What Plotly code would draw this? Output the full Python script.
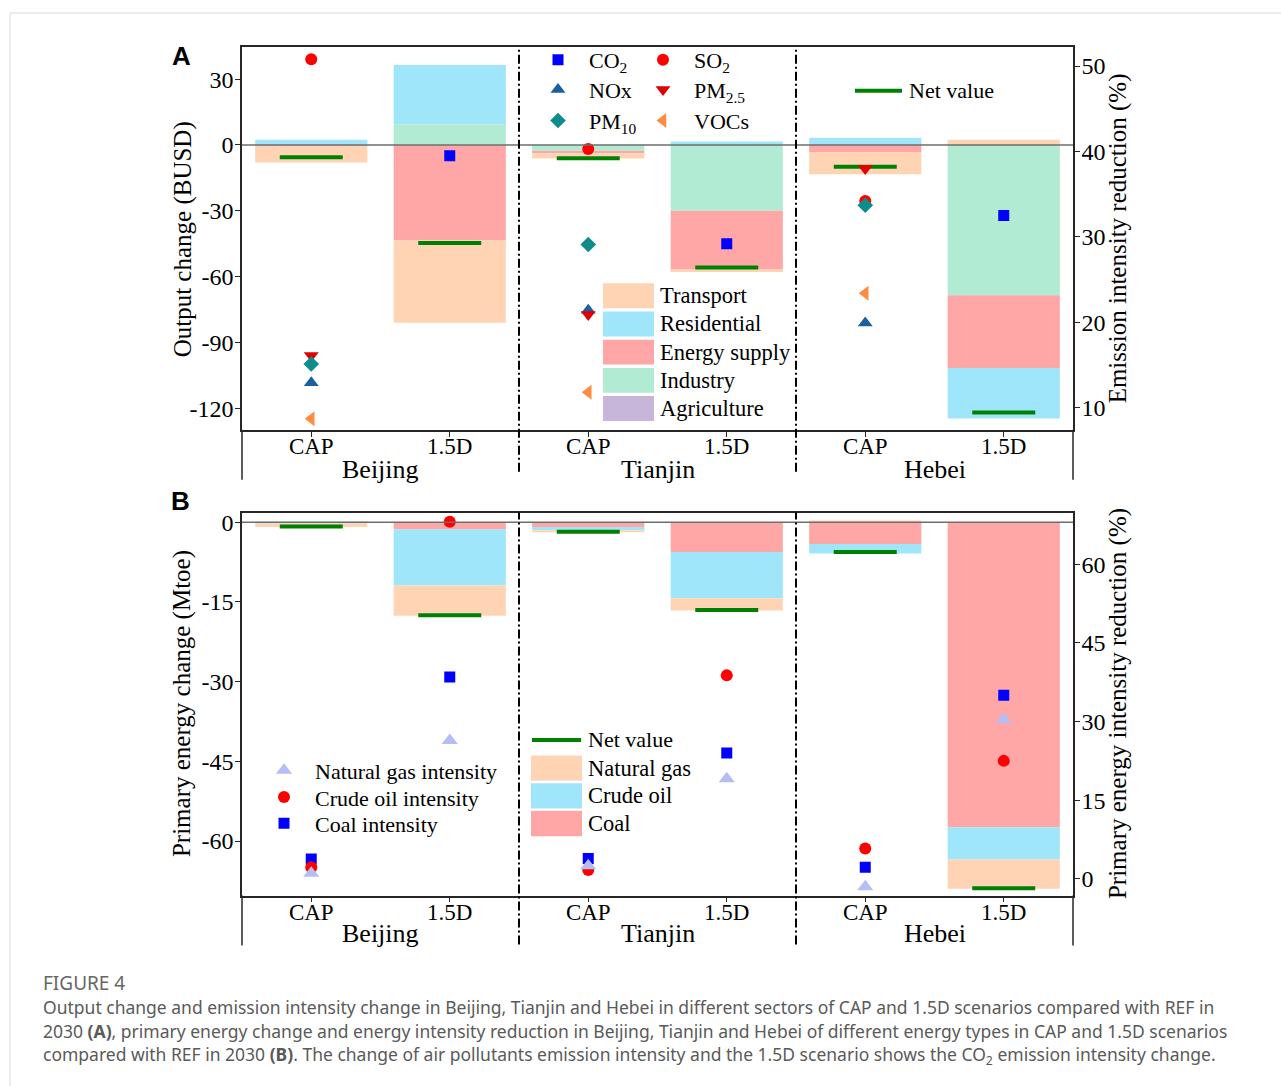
import plotly.graph_objects as go

W, H = 1281, 1086

def px(x):
    return x / W

def py(y):
    return 1 - y / H

cities = ["Beijing", "Tianjin", "Hebei"]
scenarios = ["CAP", "1.5D"]

# Panel A: output change (BUSD); order BJ-CAP, BJ-1.5D, TJ-CAP, TJ-1.5D, HB-CAP, HB-1.5D
industry = [0.0, 9.4, -2.7, -30.0, 0.0, -68.6]
energy_supply = [-0.3, -43.6, -1.1, -26.8, -3.5, -33.1]
residential = [2.3, 27.0, 0.0, 1.6, 3.3, -23.0]
transport = [-7.7, -37.5, -2.4, -1.1, -9.9, 2.4]
agriculture = [0.0, 0.0, 0.0, 0.0, 0.0, 0.0]
net_output = [-5.6, -44.7, -6.1, -55.9, -9.9, -122.0]

# Panel A: emission intensity reduction (%)
co2 = [None, 39.5, None, 29.2, None, 32.5]
so2 = [50.8, None, 40.3, None, 34.2, None]
nox = [12.9, None, 21.4, None, 19.9, None]
pm25 = [16.1, None, 20.9, None, 38.0, None]
pm10 = [15.1, None, 29.1, None, 33.7, None]
vocs = [8.7, None, 11.8, None, 23.4, None]

# Panel B: primary energy change (Mtoe)
coal = [0.0, -1.3, -0.9, -5.6, -4.1, -57.4]
crude_oil = [-0.2, -10.6, -0.6, -8.7, -1.8, -6.1]
natural_gas = [-0.7, -5.7, -0.4, -2.3, 0.2, -5.5]
net_energy = [-0.8, -17.5, -1.8, -16.5, -5.6, -68.9]

# Panel B: primary energy intensity reduction (%)
gas_int = [1.1, 26.4, 2.5, 19.1, -1.5, 30.4]
crude_int = [2.2, 68.1, 1.7, 38.8, 5.8, 22.5]
coal_int = [3.8, 38.5, 3.9, 24.0, 2.2, 35.0]

# tick labels
ya_ticks = [-120, -90, -60, -30, 0, 30]
ya2_ticks = [10, 20, 30, 40, 50]
yb_ticks = [-60, -45, -30, -15, 0]
yb2_ticks = [0, 15, 30, 45, 60]

labels = [s for c in cities for s in scenarios]
xs = list(range(len(labels)))

C_TRANS = "#FFD4B5"
C_RES = "#9FE6FA"
C_ENER = "#FFA7A7"
C_IND = "#B2EBD3"
C_AGR = "#C8B5DA"
C_NET = "#008000"

SERIF = "Liberation Serif"
BAR_W = 0.81
LEG_IW = 52  # legend symbol area width

fig = go.Figure()

# ---- Panel A bars
for name, vals, col in [("Industry", industry, C_IND), ("Energy supply", energy_supply, C_ENER),
                        ("Residential", residential, C_RES), ("Transport", transport, C_TRANS),
                        ("Agriculture", agriculture, C_AGR)]:
    fig.add_trace(go.Bar(x=xs, y=vals, name=name, marker=dict(color=col, line=dict(width=0)),
                         width=BAR_W, showlegend=False, xaxis="x", yaxis="y"))
fig.add_trace(go.Scatter(x=xs, y=net_output, mode="markers", name="Net value", showlegend=False,
                         marker=dict(symbol="line-ew", size=45, line=dict(width=4, color=C_NET)),
                         xaxis="x", yaxis="y"))

# ---- Panel A markers  (name, values, symbol, colour, size, legend id, legend marker x, row y)
mk = [
    ("CO<sub>2</sub>", co2, "square", "#0000FF", 11, "legend", 558, 57),
    ("SO<sub>2</sub>", so2, "circle", "#FF0000", 12, "legend2", 663, 57),
    ("NOx", nox, "triangle-up", "#1A5FA0", 13, "legend3", 558, 87),
    ("PM<sub>2.5</sub>", pm25, "triangle-down", "#E00000", 13, "legend4", 663, 87),
    ("PM<sub>10</sub>", pm10, "diamond", "#0E8C8C", 12, "legend5", 558, 118),
    ("VOCs", vocs, "triangle-left", "#FF8C40", 13, "legend6", 663, 118),
]
legends = {}
for name, vals, sym, col, sz, lg, lx, ly in mk:
    fig.add_trace(go.Scatter(x=xs, y=vals, mode="markers", name=name, legend=lg,
                             marker=dict(symbol=sym, size=sz, color=col, line=dict(width=0)),
                             xaxis="x", yaxis="y2"))
    legends[lg] = (lx, ly)

# ---- Panel B bars
for name, vals, col in [("Coal", coal, C_ENER), ("Crude oil", crude_oil, C_RES),
                        ("Natural gas", natural_gas, C_TRANS)]:
    fig.add_trace(go.Bar(x=xs, y=vals, name=name, marker=dict(color=col, line=dict(width=0)),
                         width=BAR_W, showlegend=False, xaxis="x2", yaxis="y3"))
fig.add_trace(go.Scatter(x=xs, y=net_energy, mode="markers", name="Net value", showlegend=False,
                         marker=dict(symbol="line-ew", size=45, line=dict(width=4, color=C_NET)),
                         xaxis="x2", yaxis="y3"))

# ---- Panel B markers
for name, vals, sym, col, sz, lg, lx, ly in [
        ("Coal intensity", coal_int, "square", "#0000FF", 11, "legend7", 284, 822.7),
        ("Crude oil intensity", crude_int, "circle", "#FF0000", 12, "legend8", 284, 796.5),
        ("Natural gas intensity", gas_int, "triangle-up", "#B3BEF7", 14, "legend9", 284, 769.5)]:
    fig.add_trace(go.Scatter(x=xs, y=vals, mode="markers", name=name, legend=lg,
                             marker=dict(symbol=sym, size=sz, color=col, line=dict(width=0)),
                             xaxis="x2", yaxis="y4"))
    legends[lg] = (lx, ly)

AXCOL = "#262626"
xtickfont = dict(family=SERIF, size=23, color="black")
ytickfont = dict(family=SERIF, size=24, color="black")
xdom = [px(242), px(1073)]
common_x = dict(domain=xdom, range=[-0.5, 5.5], tickvals=xs, ticktext=labels, ticks="outside",
                ticklen=5, tickcolor=AXCOL, showline=True, linecolor=AXCOL, linewidth=1.5,
                mirror=True, showgrid=False, zeroline=False, tickfont=xtickfont, ticklabelstandoff=-10)
common_y = dict(ticks="outside", ticklen=5, tickcolor=AXCOL, showline=True, linecolor=AXCOL,
                linewidth=1.5, showgrid=False, zeroline=False, tickfont=ytickfont, ticklabelstandoff=-3)

def tt(v):
    return [str(t) for t in v]

fig.update_layout(
    width=W, height=H, margin=dict(l=0, r=0, t=0, b=0),
    paper_bgcolor="white", plot_bgcolor="white",
    barmode="relative",
    xaxis=dict(anchor="y", **common_x),
    yaxis=dict(domain=[py(428), py(44)], range=[-129.9, 44.7], tickvals=ya_ticks, ticktext=tt(ya_ticks),
               anchor="x", **common_y),
    yaxis2=dict(overlaying="y", side="right", anchor="x", range=[7.39, 52.25],
                tickvals=ya2_ticks, ticktext=tt(ya2_ticks), **common_y),
    xaxis2=dict(anchor="y3", **common_x),
    yaxis3=dict(domain=[py(895), py(511)], range=[-70.26, 1.82], tickvals=yb_ticks, ticktext=tt(yb_ticks),
                anchor="x2", **common_y),
    yaxis4=dict(overlaying="y3", side="right", anchor="x2", range=[-3.17, 69.83],
                tickvals=yb2_ticks, ticktext=tt(yb2_ticks), **common_y),
)
for lg, (lx, ly) in legends.items():
    fig.update_layout({lg: dict(x=px(lx - (LEG_IW / 2 + 5)), y=py(ly), xanchor="left", yanchor="middle",
                                bgcolor="rgba(0,0,0,0)", itemwidth=LEG_IW,
                                font=dict(family=SERIF, size=22, color="black"))})

shapes = []
annotations = []

# zero lines
for yref in ["y", "y3"]:
    shapes.append(dict(type="line", xref="paper", yref=yref, x0=px(242), x1=px(1073), y0=0, y1=0,
                       line=dict(color="#6e6e6e", width=1.5), layer="above"))
# group dividers (dash-dot) between cities
for xref, top, bot in [("x", 44, 470), ("x2", 511, 944)]:
    for k in range(1, len(cities)):
        xd = k * len(scenarios) - 0.5
        shapes.append(dict(type="line", xref=xref, yref="paper", x0=xd, x1=xd, y0=py(bot), y1=py(top),
                           line=dict(color="black", width=2, dash="9px,3px,2px,3px"), layer="above"))
# spine extensions below plots
for top, bot in [(428, 478), (895, 945)]:
    for xx in [242, 1073]:
        shapes.append(dict(type="line", xref="paper", yref="paper", x0=px(xx), x1=px(xx), y0=py(bot),
                           y1=py(top), line=dict(color=AXCOL, width=1.5)))
# outer page frame
shapes.append(dict(type="line", xref="paper", yref="paper", x0=px(10), x1=1, y0=py(10), y1=py(10),
                   line=dict(color="#d9d9d9", width=1)))
shapes.append(dict(type="line", xref="paper", yref="paper", x0=px(10), x1=px(10), y0=0, y1=py(10),
                   line=dict(color="#d9d9d9", width=1)))

# city labels
for xref, yy in [("x", 468), ("x2", 933)]:
    for i, c in enumerate(cities):
        annotations.append(dict(x=i * len(scenarios) + 0.5, y=py(yy), xref=xref, yref="paper", text=c,
                                showarrow=False, font=dict(family=SERIF, size=26, color="black"),
                                xanchor="center", yanchor="middle"))

# axis titles
for txt, xx, yy in [("Output change (BUSD)", 183, 237), ("Emission intensity reduction (%)", 1118, 236),
                    ("Primary energy change (Mtoe)", 182, 703),
                    ("Primary energy intensity reduction (%)", 1118, 703)]:
    annotations.append(dict(x=px(xx), y=py(yy), xref="paper", yref="paper", text=txt, textangle=-90,
                            showarrow=False, font=dict(family=SERIF, size=25, color="black"),
                            xanchor="center", yanchor="middle"))

# panel labels
for t, xx, yy in [("A", 181, 53), ("B", 180, 499)]:
    annotations.append(dict(x=px(xx), y=py(yy), xref="paper", yref="paper", text="<b>%s</b>" % t,
                            showarrow=False, font=dict(family="Liberation Sans", size=26, color="black"),
                            xanchor="center", yanchor="middle"))

# manual legends for bars and net value
def add_net_legend(x0, x1, y, tx):
    shapes.append(dict(type="line", xref="paper", yref="paper", x0=px(x0), x1=px(x1), y0=py(y), y1=py(y),
                       line=dict(color=C_NET, width=4)))
    annotations.append(dict(x=px(tx), y=py(y), xref="paper", yref="paper", text="Net value",
                            showarrow=False, font=dict(family=SERIF, size=22, color="black"),
                            xanchor="left", yanchor="middle"))

def add_swatch(x0, x1, y0, y1, col, txt, tx):
    shapes.append(dict(type="rect", xref="paper", yref="paper", x0=px(x0), x1=px(x1), y0=py(y1), y1=py(y0),
                       fillcolor=col, line=dict(width=0)))
    annotations.append(dict(x=px(tx), y=py((y0 + y1) / 2), xref="paper", yref="paper", text=txt,
                            showarrow=False, font=dict(family=SERIF, size=22.5, color="black"),
                            xanchor="left", yanchor="middle"))

add_net_legend(855, 902, 88, 907)
sector_leg = [("Transport", C_TRANS), ("Residential", C_RES), ("Energy supply", C_ENER),
              ("Industry", C_IND), ("Agriculture", C_AGR)]
for i, (t, col) in enumerate(sector_leg):
    y0 = 281 + i * 28.3
    add_swatch(603, 654, y0, y0 + 25, col, t, 658)

add_net_legend(532, 581, 739, 586)
for i, (t, col) in enumerate([("Natural gas", C_TRANS), ("Crude oil", C_RES), ("Coal", C_ENER)]):
    y0 = 754.5 + i * 27.8
    add_swatch(531, 582, y0, y0 + 25.5, col, t, 586)

# caption
cap_font = dict(family="Noto Sans", size=17.5, color="#5a5a5a")
annotations.append(dict(x=px(41), y=py(983), xref="paper", yref="paper", text="FIGURE 4", showarrow=False,
                        font=dict(family="Noto Sans", size=19, color="#666666"), xanchor="left",
                        yanchor="middle"))
cap_lines = [
    "Output change and emission intensity change in Beijing, Tianjin and Hebei in different sectors of CAP and 1.5D scenarios compared with REF in",
    "2030 <b>(A)</b>, primary energy change and energy intensity reduction in Beijing, Tianjin and Hebei of different energy types in CAP and 1.5D scenarios",
    "compared with REF in 2030 <b>(B)</b>. The change of air pollutants emission intensity and the 1.5D scenario shows the CO<sub>2</sub> emission intensity change.",
]
for i, t in enumerate(cap_lines):
    annotations.append(dict(x=px(41), y=py(1007 + 24 * i), xref="paper", yref="paper", text=t,
                            showarrow=False, font=cap_font, xanchor="left", yanchor="middle"))

fig.update_layout(shapes=shapes, annotations=annotations)
fig.write_html("out.html")
